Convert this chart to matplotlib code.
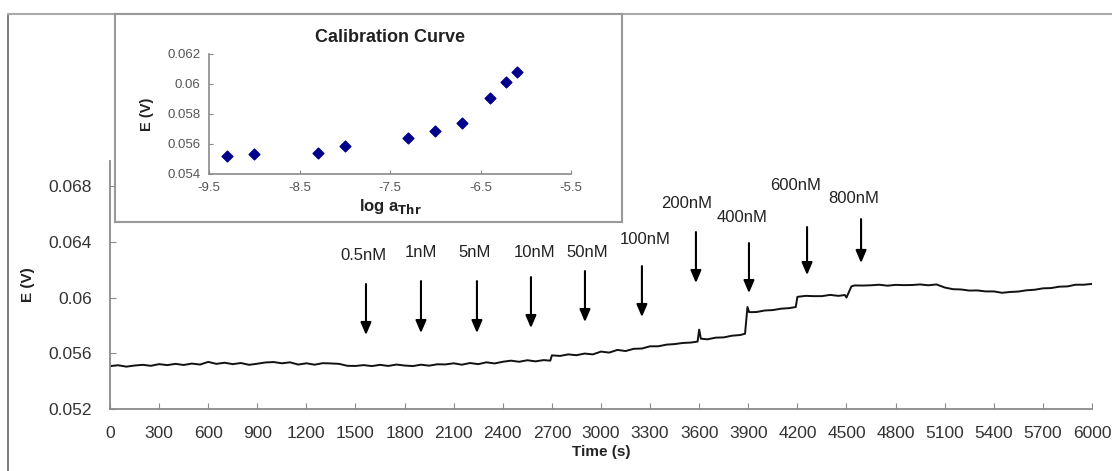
import numpy as np
import matplotlib.pyplot as plt
from matplotlib.lines import Line2D

plt.rcParams['font.family'] = ['Liberation Sans', 'DejaVu Sans']


# potential vs time trace...........................
time_s = [0, 50, 100, 150, 200, 250, 300, 350, 400, 450, 500, 550, 600, 650, 700,
          750, 800, 850, 900, 950, 1000, 1050, 1100, 1150, 1200, 1250, 1300, 1350,
          1400, 1450, 1500, 1550, 1600, 1650, 1700, 1750, 1800, 1850, 1900, 1950,
          2000, 2050, 2100, 2150, 2200, 2250, 2300, 2350, 2400, 2450, 2500, 2550,
          2600, 2650, 2690, 2700, 2750, 2800, 2850, 2900, 2950, 3000, 3050, 3100,
          3150, 3200, 3250, 3300, 3350, 3400, 3450, 3500, 3550, 3590, 3600, 3610,
          3650, 3700, 3750, 3800, 3850, 3880, 3895, 3905, 3950, 4000, 4050, 4100,
          4150, 4190, 4200, 4250, 4300, 4350, 4400, 4450, 4490, 4500, 4530, 4550,
          4600, 4650, 4700, 4750, 4800, 4850, 4900, 4950, 5000, 5050, 5100, 5150,
          5200, 5250, 5300, 5350, 5400, 5450, 5500, 5550, 5600, 5650, 5700, 5750,
          5800, 5850, 5900, 5950, 6000]
potential_V = [0.05508, 0.05514, 0.05504, 0.05512, 0.05517, 0.05510, 0.05522, 0.05515,
               0.05524, 0.05516, 0.05526, 0.05519, 0.05538, 0.05524, 0.05532, 0.05522,
               0.05530, 0.05517, 0.05525, 0.05534, 0.05537, 0.05528, 0.05535, 0.05519,
               0.05528, 0.05518, 0.05529, 0.05527, 0.05524, 0.05510, 0.05509, 0.05515,
               0.05508, 0.05517, 0.05509, 0.05519, 0.05512, 0.05508, 0.05518, 0.05511,
               0.05521, 0.05520, 0.05528, 0.05518, 0.05530, 0.05522, 0.05535, 0.05527,
               0.05539, 0.05547, 0.05539, 0.05550, 0.05542, 0.05551, 0.05547, 0.05585,
               0.05581, 0.05592, 0.05586, 0.05598, 0.05592, 0.05612, 0.05605, 0.05624,
               0.05616, 0.05632, 0.05634, 0.05650, 0.05650, 0.05662, 0.05666, 0.05674,
               0.05677, 0.05684, 0.05770, 0.05705, 0.05700, 0.05712, 0.05714, 0.05726,
               0.05731, 0.05740, 0.05932, 0.05895, 0.05896, 0.05907, 0.05910, 0.05920,
               0.05924, 0.05932, 0.06005, 0.06012, 0.06010, 0.06010, 0.06019, 0.06012,
               0.06018, 0.06000, 0.06080, 0.06087, 0.06086, 0.06088, 0.06092, 0.06085,
               0.06091, 0.06089, 0.06090, 0.06094, 0.06088, 0.06094, 0.06072, 0.06060,
               0.06058, 0.06050, 0.06051, 0.06044, 0.06044, 0.06034, 0.06040, 0.06043,
               0.06052, 0.06056, 0.06066, 0.06068, 0.06078, 0.06080, 0.06092, 0.06092,
               0.06098]

# additions of thrombin
conc_labels = ['0.5nM', '1nM', '5nM', '10nM', '50nM', '100nM', '200nM', '400nM', '600nM', '800nM']
add_time = [1564, 1900, 2242, 2572, 2902, 3250, 3580, 3904, 4259, 4589]

# calibration curve
log_a = [-9.30, -9.00, -8.30, -8.00, -7.30, -7.00, -6.70, -6.40, -6.22, -6.10]
cal_E = [0.05521, 0.05532, 0.05543, 0.05590, 0.05640, 0.05686, 0.05737, 0.05910, 0.06016, 0.06080]

# arrow layout (V units)
arrow_top = [0.06097, 0.06118, 0.06118, 0.06147, 0.06190, 0.06226, 0.06470, 0.06391, 0.06506, 0.06563]
arrow_tip = [0.05731, 0.05745, 0.05745, 0.05781, 0.05824, 0.05860, 0.06104, 0.06032, 0.06161, 0.06248]
label_x = [1546, 1900, 2230, 2597, 2915, 3269, 3526, 3862, 4186, 4546]
label_y = [0.06305, 0.06326, 0.06326, 0.06326, 0.06326, 0.06413, 0.06678, 0.06578, 0.06807, 0.06714]


W, H = 1112, 471
fig = plt.figure(figsize=(W / 100, H / 100), dpi=100)

def box(l, t, r, b):
    # pixel box -> figure fraction
    return [l / W, 1 - b / H, (r - l) / W, (b - t) / H]

# outer frame lines
fig.add_artist(Line2D([8 / W, 8 / W], [0, 1 - 14 / H], transform=fig.transFigure, color='#666666', lw=1.2))
fig.add_artist(Line2D([8 / W, 1], [1 - 14 / H, 1 - 14 / H], transform=fig.transFigure, color='#aaaaaa', lw=1.5))


# main plot..................................................................
ax = fig.add_axes(box(110, 161, 1092, 409))
ax.plot(time_s, potential_V, color='#111111', lw=1.4)
ax.set_xlim(0, 6000)
ax.set_ylim(0.052, 0.0698)
ax.set_xticks(np.arange(0, 6001, 300))
ax.set_yticks([0.052, 0.056, 0.06, 0.064, 0.068])
ax.set_yticklabels(['0.052', '0.056', '0.06', '0.064', '0.068'])
for s in ['top', 'right']:
    ax.spines[s].set_visible(False)
for s in ['left', 'bottom']:
    ax.spines[s].set_color('#8a8a8a')
    ax.spines[s].set_linewidth(1.3)
ax.tick_params(direction='in', length=4, color='#8a8a8a', labelsize=12.5, labelcolor='#333333')
ax.tick_params(axis='x', pad=12)
ax.tick_params(axis='y', pad=13)
ax.set_xlabel('Time (s)', fontsize=11, fontweight='bold', color='#222222', labelpad=3)
ax.set_ylabel('E (V)', fontsize=11, fontweight='bold', color='#222222', labelpad=10)

for i in range(len(conc_labels)):
    ax.annotate('', xy=(add_time[i], arrow_tip[i]), xytext=(add_time[i], arrow_top[i]),
                arrowprops=dict(arrowstyle='-|>,head_width=0.32,head_length=0.75',
                                color='black', lw=1.5, shrinkA=0, shrinkB=0))
    ax.text(label_x[i], label_y[i], conc_labels[i], ha='center', va='center',
            fontsize=12, color='#222222', clip_on=False)


# inset calibration curve.....................................................
bg = fig.add_axes(box(115, 14, 622, 222))
bg.set_xticks([])
bg.set_yticks([])
for s in bg.spines.values():
    s.set_color('#999999')
    s.set_linewidth(1.5)
bg.set_zorder(5)

ins = fig.add_axes(box(209, 54, 571, 174))
ins.set_zorder(6)
ins.patch.set_alpha(0)
ins.scatter(log_a, cal_E, marker='D', s=30, color='#00008b', zorder=3)
ins.set_xlim(-9.5, -5.5)
ins.set_ylim(0.054, 0.062)
ins.set_xticks([-9.5, -8.5, -7.5, -6.5, -5.5])
ins.set_xticklabels(['-9.5', '-8.5', '-7.5', '-6.5', '-5.5'])
ins.set_yticks([0.054, 0.056, 0.058, 0.06, 0.062])
ins.set_yticklabels(['0.054', '0.056', '0.058', '0.06', '0.062'])
for s in ['top', 'right']:
    ins.spines[s].set_visible(False)
for s in ['left', 'bottom']:
    ins.spines[s].set_color('#8a8a8a')
    ins.spines[s].set_linewidth(1.2)
ins.tick_params(direction='in', length=3, color='#8a8a8a', labelsize=9.5, labelcolor='#555555')
ins.tick_params(axis='x', pad=6)
ins.tick_params(axis='y', pad=6)
ins.set_title('Calibration Curve', fontsize=13, fontweight='bold', color='#222222', pad=9)
ins.set_xlabel(r'log a$_{\mathbf{Thr}}$', fontsize=12, fontweight='bold', color='#222222', labelpad=2)
ins.set_ylabel('E (V)', fontsize=10.5, fontweight='bold', color='#222222', labelpad=10)

plt.savefig('out.png', dpi=100)
